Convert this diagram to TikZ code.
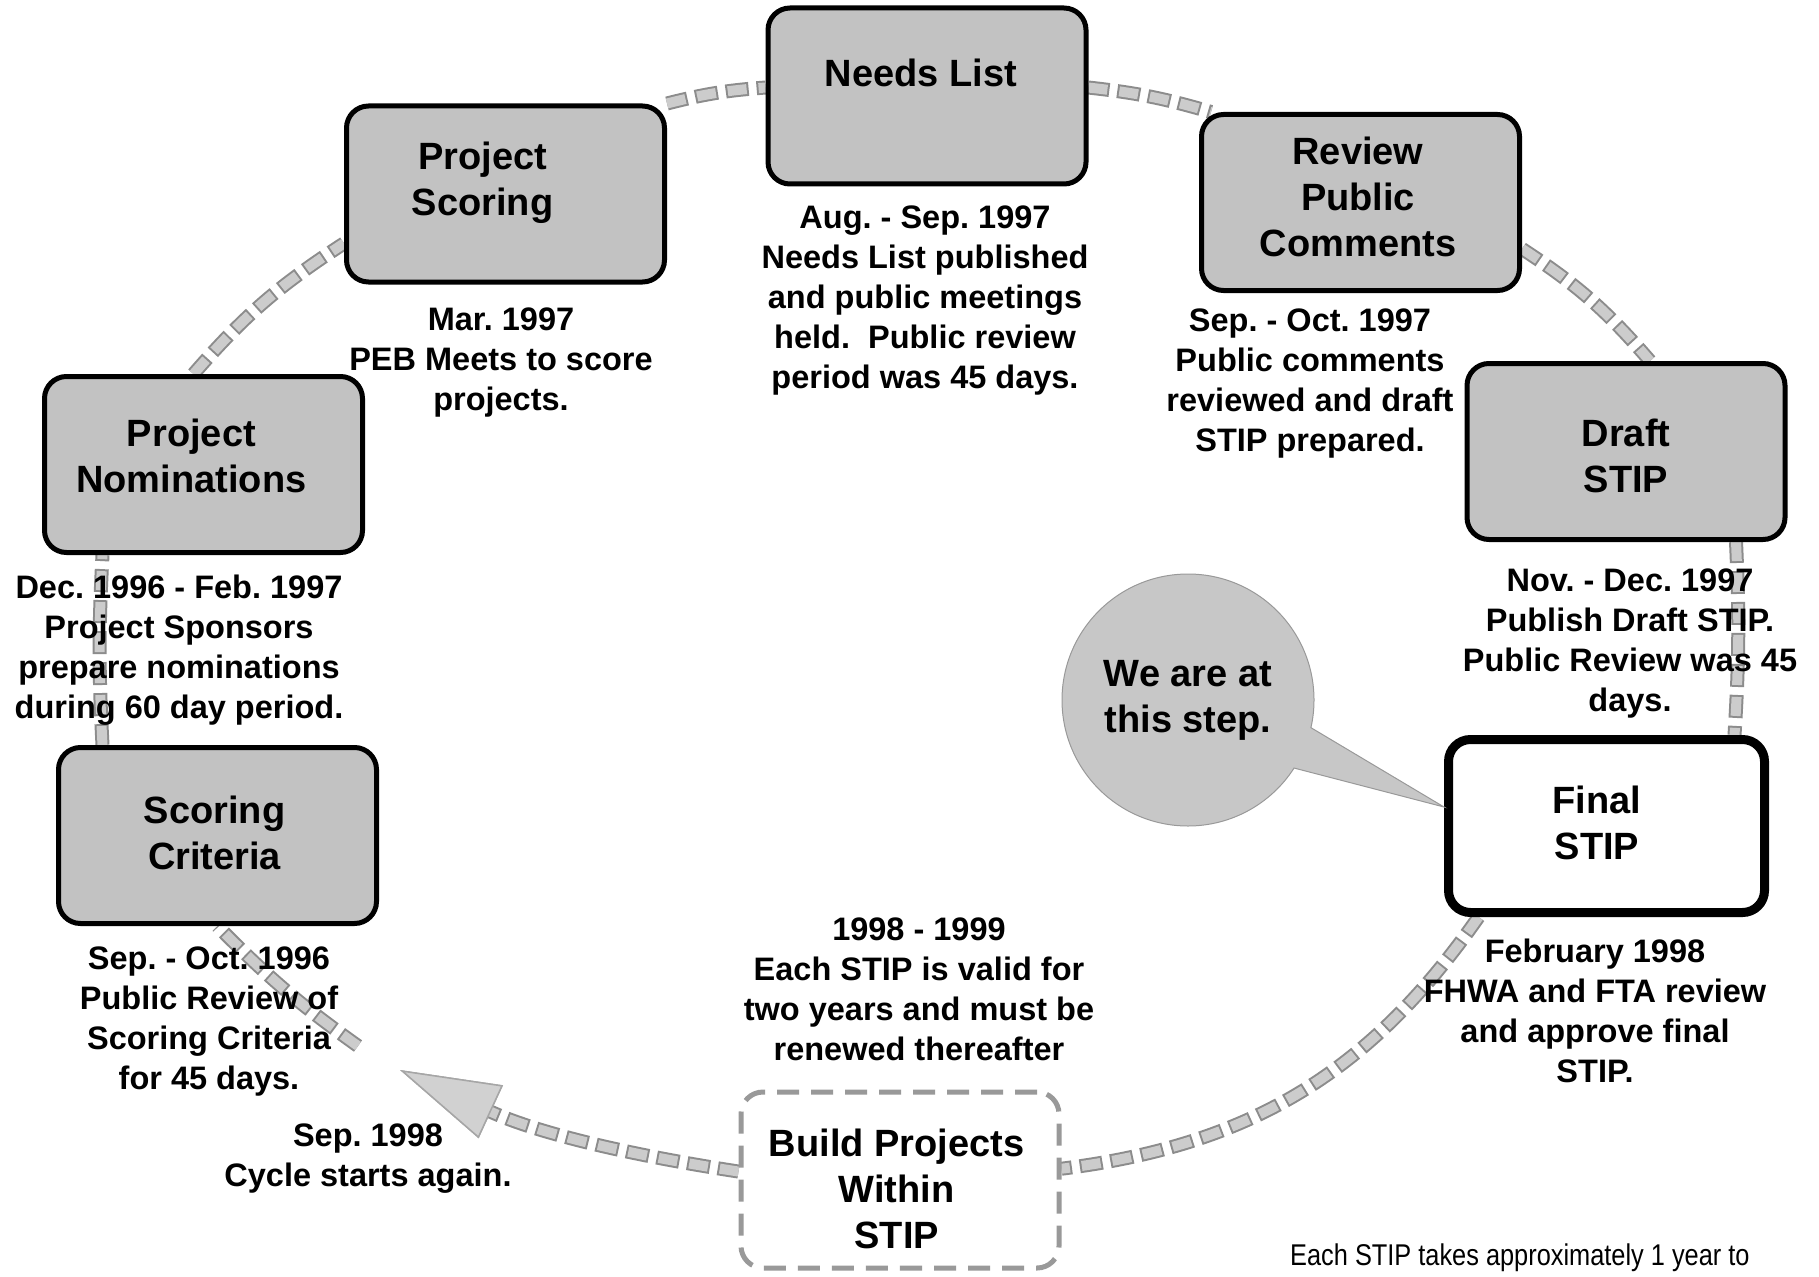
\documentclass[tikz,border=0pt]{standalone}
\usepackage{fontspec}
\setmainfont{Liberation Sans}
\newfontfamily\narrowfont[FakeStretch=0.845]{Liberation Sans}
\usetikzlibrary{arrows.meta,shapes.callouts,backgrounds}
\frenchspacing
\begin{document}
\begin{tikzpicture}[x=1pt,y=-1pt,
  box/.style={draw=black, line width=5pt, rounded corners=22pt, fill=black!24,
    minimum width=318pt, minimum height=176pt, inner sep=0pt},
  finalbox/.style={draw=black, line width=9pt, rounded corners=22pt, fill=white,
    minimum width=316pt, minimum height=173pt, inner sep=0pt},
  buildbox/.style={draw=black!40, line width=5pt, dash pattern=on 22pt off 12pt,
    rounded corners=22pt, fill=white, minimum width=318pt, minimum height=176pt, inner sep=0pt},
  lbl/.style={font=\bfseries\fontsize{38}{46}\selectfont, align=center, inner sep=0pt},
  desc/.style={font=\bfseries\fontsize{32.5}{40}\selectfont, align=center, inner sep=0pt},
  note/.style={font=\narrowfont\fontsize{30}{36}\selectfont, inner sep=0pt},
  conn/.style={draw=black!20, line width=10pt, dash pattern=on 19pt off 12pt,
    preaction={draw=black!45, line width=14pt, dash pattern=on 23pt off 8pt, dash phase=2pt}},
  arrowtip/.style={-{Triangle[length=100pt,width=58pt,fill=black!18,color=black!35,line width=1.5pt]}},
  bubble/.style={ellipse callout, fill=black!22, draw=black!40, line width=1pt,
    minimum width=252pt, minimum height=252pt, inner sep=0pt, callout pointer arc=20,
    font=\bfseries\fontsize{38}{46}\selectfont, align=center}
]
\useasboundingbox (0,0) rectangle (1819,1276);

% boxes
\node[box] (NL) at (927,96) {};
\node[box] (PS) at (505.5,194) {};
\node[box] (RP) at (1360.5,202.5) {};
\node[box] (PN) at (203.5,464.5) {};
\node[box] (DS) at (1626,451.5) {};
\node[box] (SC) at (217.5,835.5) {};
\node[finalbox] (FS) at (1606.5,826) {};
\node[buildbox] (BP) at (900,1180) {};

% box labels
\node[lbl] (NLt) at (921,73) {Needs List};
\node[lbl] (PSt) at (482.6,182.4) {Project\\Scoring};
\node[lbl] (RPt) at (1358,196.8) {Review\\Public\\Comments};
\node[lbl] (PNt) at (191.4,455.7) {Project\\Nominations};
\node[lbl] (DSt) at (1626,455.7) {Draft\\STIP};
\node[lbl] (SCt) at (214.6,832.7) {Scoring\\Criteria};
\node[lbl] (FSt) at (1597,823.4) {Final\\STIP};
\node[lbl] (BPt) at (896.7,1188.6) {Build Projects\\Within\\STIP};

\coordinate (tip) at (400,1070);
\coordinate (gap) at (358,1046);

% cycle connectors
\begin{pgfonlayer}{background}
\fill[white] (0,0) rectangle (1819,1276);
\draw[conn] ([xshift=-10pt]PN.north) to[bend left=8] (PS.197);
\draw[conn] (PS.north east) to[bend left=5] (NL.177);
\draw[conn] (NL.3) to[bend left=5] ([xshift=12pt]RP.north west);
\draw[conn] (RP.-16) to[bend left=8] ([xshift=24pt]DS.north);
\draw[conn] ([xshift=110pt]DS.south) to[bend left=3] ([xshift=128pt]FS.north);
\draw[conn] ([xshift=-128pt]FS.south) to[bend left=24] (BP.4);
\draw[conn, arrowtip] (BP.177) to[bend left=8] (tip);
\draw[conn] (gap) to[bend left=5] (SC.south);
\draw[conn] ([xshift=-115pt]SC.north) to[bend left=3] ([xshift=-101pt]PN.south);
\end{pgfonlayer}

% descriptions
\node[desc] (D1) at (925,300.7) {Aug. - Sep. 1997\\Needs List published\\and public meetings\\held.\ \ Public review\\period was 45 days.};
\node[desc] (D2) at (501,362.7) {Mar. 1997\\PEB Meets to score\\projects.};
\node[desc] (D3) at (1310,383.7) {Sep. - Oct. 1997\\Public comments\\reviewed and draft\\STIP prepared.};
\node[desc] (D4) at (179,649.8) {Dec. 1996 - Feb. 1997\\Project Sponsors\\prepare nominations\\during 60 day period.};
\node[desc] (D5) at (1630,643.7) {Nov. - Dec. 1997\\Publish Draft STIP.\\Public Review was 45\\days.};
\node[desc] (D6) at (209,1021.7) {Sep. - Oct. 1996\\Public Review of\\Scoring Criteria\\for 45 days.};
\node[desc] (D7) at (919,989.3) {1998 - 1999\\Each STIP is valid for\\two years and must be\\renewed thereafter};
\node[desc] (D8) at (1595,1011.3) {February 1998\\FHWA and FTA review\\and approve final\\STIP.};
\node[desc] (D9) at (368,1158.7) {Sep. 1998\\Cycle starts again.};

% callout
\node[bubble, callout absolute pointer={([yshift=19pt]FS.west)}] (CO) at (1188,700) {We are at\\this step.};

% note
\node[note, anchor=base west] (NOTE) at (1290,1265) {Each STIP takes approximately 1 year to};
\end{tikzpicture}
\end{document}
